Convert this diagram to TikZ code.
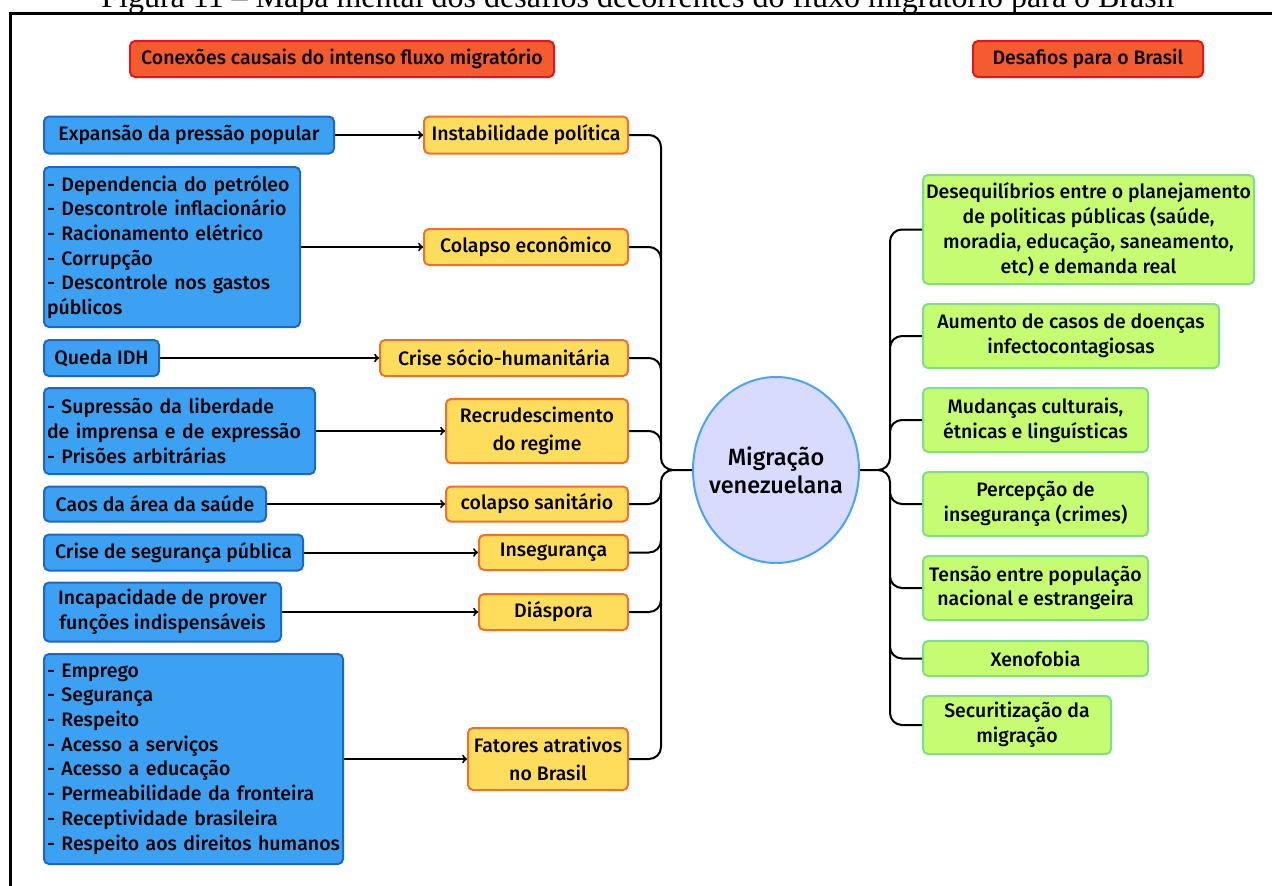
\documentclass[tikz,border=0pt]{standalone}
\usepackage{fontspec}
\setmainfont{Fira Sans}[UprightFont=* Medium, BoldFont=* SemiBold]
\newfontfamily\legendafont{Liberation Serif}
\usepackage{tikz}
\usetikzlibrary{positioning, shapes.geometric}

\definecolor{azul}{HTML}{3DA1F3}
\definecolor{azulborda}{HTML}{1A68C9}
\definecolor{amarelo}{HTML}{FFDD5C}
\definecolor{laranja}{HTML}{F56E2C}
\definecolor{verde}{HTML}{C5FC71}
\definecolor{verdeborda}{HTML}{80DF86}
\definecolor{vermelho}{HTML}{F45B2E}
\definecolor{vermelhoborda}{HTML}{E8141C}
\definecolor{lilas}{HTML}{D8DBFD}
\definecolor{azulclaro}{HTML}{4BA3F5}

\tikzset{
    caixa/.style={draw, rounded corners=5pt, line width=2pt, inner xsep=3pt, inner ysep=2pt,
        font=\fontsize{19.5}{24.7}\selectfont},
    causa/.style={caixa, draw=azulborda, fill=azul, anchor=west, align=center},
    causalista/.style={causa, align=left},
    fator/.style={caixa, draw=laranja, fill=amarelo, anchor=east, align=center,
        font=\fontsize{19.5}{28}\selectfont},
    desafio/.style={caixa, draw=verdeborda, fill=verde, anchor=west, align=center},
    titulo/.style={caixa, draw=vermelhoborda, fill=vermelho, font=\fontsize{19.5}{22}\selectfont},
    ramo/.style={rounded corners=12pt, line width=2pt},
}

\begin{document}
\begin{tikzpicture}[x=1pt, y=-1pt, line width=2pt]
    \useasboundingbox (0,0) rectangle (1272,886);
    \clip (0,0) rectangle (1272,886);

    % legenda e moldura
    \node[font=\legendafont\fontsize{32}{36}\selectfont, anchor=base] (legenda) at (638,7)
        {Figura 11 – Mapa mental dos desafios decorrentes do fluxo migratório para o Brasil};
    \draw[line width=3pt] (10.5,900) -- (10.5,13.5) -- (1290,13.5);

    % titulos
    \node[titulo, minimum width=424, minimum height=36] (tit_c) at (342,59) {Conexões causais do intenso fluxo migratório};
    \node[titulo, minimum width=230, minimum height=36] (tit_d) at (1088,59) {Desafios para o Brasil};

    % causas
    \node[causa, minimum width=290, minimum height=37] (c_1) at (43,135) {Expansão da pressão popular};
    \node[causalista, text width=250, minimum height=160] (c_2) at (43,247)
        {- Dependencia do petróleo\\- Descontrole inflacionário\\- Racionamento elétrico\\- Corrupção\\- Descontrole nos gastos\\públicos};
    \node[causa, minimum width=115, minimum height=36] (c_3) at (43,358) {Queda IDH};
    \node[causalista, text width=265, minimum height=86] (c_4) at (43,431)
        {- Supressão da liberdade\\de imprensa e de expressão\\- Prisões arbitrárias};
    \node[causa, minimum width=222, minimum height=35] (c_5) at (43,504) {Caos da área da saúde};
    \node[causa, minimum width=259, minimum height=36] (c_6) at (43,552.5) {Crise de segurança pública};
    \node[causa, minimum width=237, minimum height=59] (c_7) at (43,612) {Incapacidade de prover\\funções indispensáveis};
    \node[causalista, text width=293, minimum height=210] (c_8) at (43,759)
        {- Emprego\\- Segurança\\- Respeito\\- Acesso a serviços\\- Acesso a educação\\- Permeabilidade da fronteira\\- Receptividade brasileira\\- Respeito aos direitos humanos};

    % fatores
    \node[fator, minimum width=204, minimum height=37] (f_1) at (629,135) {Instabilidade política};
    \node[fator, minimum width=204, minimum height=36] (f_2) at (629,247) {Colapso econômico};
    \node[fator, minimum width=248, minimum height=36] (f_3) at (629,358) {Crise sócio-humanitária};
    \node[fator, minimum width=182, minimum height=64] (f_4) at (629,431) {Recrudescimento\\do regime};
    \node[fator, minimum width=182, minimum height=35] (f_5) at (629,504) {colapso sanitário};
    \node[fator, minimum width=149, minimum height=35] (f_6) at (629,552.5) {Insegurança};
    \node[fator, minimum width=149, minimum height=36] (f_7) at (629,612) {Diáspora};
    \node[fator, minimum width=160, minimum height=62] (f_8) at (629,759) {Fatores atrativos\\no Brasil};

    % centro
    \node[ellipse, draw=azulclaro, fill=lilas, line width=2pt, minimum width=166, minimum height=186,
        inner sep=0pt] (mig) at (776,470) {};
    \node[align=center, font=\fontsize{23.5}{28}\selectfont] (mig_txt) at (mig.center) {Migração\\venezuelana};
    \coordinate (eixo_e) at (661,470);
    \coordinate (eixo_d) at (890,470);

    % desafios
    \node[desafio, minimum width=331, minimum height=109] (d_1) at (922,229.5)
        {Desequilíbrios entre o planejamento\\de politicas públicas (saúde,\\moradia, educação, saneamento,\\etc) e demanda real};
    \node[desafio, minimum width=296, minimum height=64] (d_2) at (922,336) {Aumento de casos de doenças\\infectocontagiosas};
    \node[desafio, minimum width=225, minimum height=64] (d_3) at (922,420) {Mudanças culturais,\\étnicas e linguísticas};
    \node[desafio, minimum width=225, minimum height=64] (d_4) at (922,504) {Percepção de\\insegurança (crimes)};
    \node[desafio, minimum width=225, minimum height=64] (d_5) at (922,588) {Tensão entre população\\nacional e estrangeira};
    \node[desafio, minimum width=225, minimum height=35] (d_6) at (922,658.5) {Xenofobia};
    \node[desafio, minimum width=188, minimum height=58] (d_7) at (922,725) {Securitização da\\migração};

    \path[->]
    (c_1) edge (f_1)
    (c_2) edge (f_2)
    (c_3) edge (f_3)
    (c_4) edge (f_4)
    (c_5) edge (f_5)
    (c_6) edge (f_6)
    (c_7) edge (f_7)
    (c_8) edge (f_8)
    ;

    \draw[ramo]
    (f_1.east) -| (eixo_e) -- (mig.west)
    (f_2.east) -| (eixo_e) -- (mig.west)
    (f_3.east) -| (eixo_e) -- (mig.west)
    (f_4.east) -| (eixo_e) -- (mig.west)
    (f_5.east) -| (eixo_e) -- (mig.west)
    (f_6.east) -| (eixo_e) -- (mig.west)
    (f_7.east) -| (eixo_e) -- (mig.west)
    (f_8.east) -| (eixo_e) -- (mig.west)
    ;
    \draw[ramo]
    (mig.east) -- (eixo_d) |- (d_1.west)
    (mig.east) -- (eixo_d) |- (d_2.west)
    (mig.east) -- (eixo_d) |- (d_3.west)
    (mig.east) -- (eixo_d) |- (d_4.west)
    (mig.east) -- (eixo_d) |- (d_5.west)
    (mig.east) -- (eixo_d) |- (d_6.west)
    (mig.east) -- (eixo_d) |- (d_7.west)
    ;
\end{tikzpicture}
\end{document}
